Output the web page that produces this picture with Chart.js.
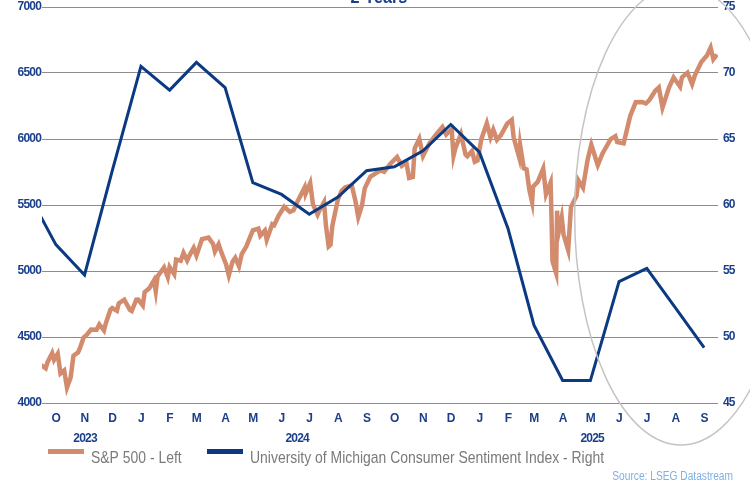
<!DOCTYPE html>
<html>
<head>
<meta charset="utf-8">
<script src="https://cdn.jsdelivr.net/npm/chart.js@4.4.1/dist/chart.umd.min.js"></script>
<style>
  html, body { margin: 0; padding: 0; background: #fff; }
  #wrap { width: 750px; height: 482px; position: relative; }
</style>
</head>
<body>
<div id="wrap"><canvas id="chart" width="750" height="482"></canvas></div>
<script>
// S&P 500 (left axis)
const spxDates = [
  '2023-09-29','2023-10-04','2023-10-06','2023-10-11','2023-10-13','2023-10-17','2023-10-20','2023-10-24','2023-10-27','2023-10-31',
  '2023-11-03','2023-11-08','2023-11-10','2023-11-14','2023-11-17','2023-11-22','2023-11-28','2023-12-01','2023-12-06','2023-12-08',
  '2023-12-13','2023-12-15','2023-12-20','2023-12-22','2023-12-28',
  '2024-01-03','2024-01-05','2024-01-10','2024-01-12','2024-01-17','2024-01-19','2024-01-24','2024-01-29','2024-01-31','2024-02-02',
  '2024-02-09','2024-02-13','2024-02-15','2024-02-20','2024-02-22','2024-02-27','2024-03-01','2024-03-05','2024-03-08','2024-03-12',
  '2024-03-15','2024-03-21','2024-03-28','2024-04-02','2024-04-04','2024-04-08','2024-04-10','2024-04-12','2024-04-16','2024-04-19',
  '2024-04-23','2024-04-26','2024-04-30','2024-05-03','2024-05-08','2024-05-10','2024-05-15','2024-05-21','2024-05-23','2024-05-28',
  '2024-05-30','2024-06-05','2024-06-07','2024-06-12','2024-06-18','2024-06-24','2024-06-28','2024-07-03','2024-07-10','2024-07-11',
  '2024-07-16','2024-07-19','2024-07-24','2024-07-26','2024-07-31','2024-08-02','2024-08-05','2024-08-07','2024-08-09','2024-08-15',
  '2024-08-19','2024-08-23','2024-08-30','2024-09-03','2024-09-06','2024-09-10','2024-09-13','2024-09-19','2024-09-26','2024-09-30',
  '2024-10-04','2024-10-11','2024-10-18','2024-10-23','2024-10-28','2024-10-31','2024-11-04','2024-11-06','2024-11-11','2024-11-15',
  '2024-11-22','2024-11-29','2024-12-06','2024-12-10','2024-12-16','2024-12-18','2024-12-20','2024-12-26','2024-12-31',
  '2025-01-02','2025-01-07','2025-01-10','2025-01-13','2025-01-17','2025-01-23','2025-01-27','2025-01-30','2025-02-03','2025-02-07',
  '2025-02-14','2025-02-19','2025-02-21','2025-02-27','2025-02-28','2025-03-04','2025-03-07','2025-03-10','2025-03-13','2025-03-14',
  '2025-03-19','2025-03-25','2025-03-28','2025-04-02','2025-04-03','2025-04-04','2025-04-08','2025-04-09','2025-04-10','2025-04-14',
  '2025-04-16','2025-04-21','2025-04-24','2025-04-30','2025-05-02','2025-05-07','2025-05-12','2025-05-16','2025-05-21','2025-05-23',
  '2025-05-28','2025-06-06','2025-06-11','2025-06-13','2025-06-20','2025-06-27','2025-07-03','2025-07-10','2025-07-14','2025-07-18',
  '2025-07-24','2025-07-28','2025-08-01','2025-08-08','2025-08-13','2025-08-20','2025-08-22','2025-08-28','2025-09-02','2025-09-05',
  '2025-09-12','2025-09-18','2025-09-22','2025-09-25','2025-09-29'
];
const spxValues = [
  4288,4263,4309,4377,4327,4373,4224,4247,4117,4194,
  4358,4383,4415,4496,4514,4556,4555,4595,4549,4604,
  4707,4719,4698,4755,4783,
  4705,4697,4783,4784,4739,4840,4869,4928,4846,4959,
  5027,4953,5030,4976,5087,5078,5137,5079,5124,5175,
  5117,5241,5254,5205,5147,5202,5161,5123,5051,4967,
  5070,5100,5036,5128,5187,5223,5308,5321,5268,5306,
  5236,5354,5347,5421,5487,5448,5460,5537,5633,5584,
  5667,5505,5427,5459,5522,5346,5186,5199,5344,5543,
  5608,5634,5648,5528,5408,5496,5626,5713,5745,5762,
  5751,5815,5864,5797,5823,5705,5712,5929,6001,5871,
  5969,6032,6090,6034,6074,5872,5930,6037,5882,
  5869,5909,5827,5837,5997,6119,6012,6071,5994,6026,
  6115,6144,6013,5861,5955,5778,5770,5615,5522,5639,
  5675,5777,5581,5671,5397,5074,4983,5457,5268,5406,
  5276,5158,5485,5569,5687,5631,5844,5958,5845,5802,
  5889,6000,6022,5977,5967,6173,6279,6280,6269,6297,
  6364,6390,6238,6389,6466,6396,6467,6502,6416,6482,
  6584,6632,6693,6604,6640
];

// University of Michigan Consumer Sentiment (right axis), monthly
const umichDates = [
  '2023-09-15','2023-10-15','2023-11-15','2023-12-15','2024-01-15','2024-02-15','2024-03-15','2024-04-15','2024-05-15',
  '2024-06-15','2024-07-15','2024-08-15','2024-09-15','2024-10-15','2024-11-15','2024-12-15','2025-01-15','2025-02-15',
  '2025-03-15','2025-04-15','2025-05-15','2025-06-15','2025-07-15','2025-08-15','2025-09-15'
];
const umichValues = [
  60.9,57.0,54.7,62.6,70.5,68.7,70.8,68.9,61.7,
  60.8,59.3,60.6,62.6,62.9,64.1,66.1,64.0,58.2,
  50.9,46.7,46.7,54.2,55.2,52.2,49.2
];

// axes
const monthTickDates = [
  '2023-10-15','2023-11-15','2023-12-15','2024-01-15','2024-02-15','2024-03-15','2024-04-15','2024-05-15',
  '2024-06-15','2024-07-15','2024-08-15','2024-09-15','2024-10-15','2024-11-15','2024-12-15','2025-01-15',
  '2025-02-15','2025-03-15','2025-04-15','2025-05-15','2025-06-15','2025-07-15','2025-08-15','2025-09-15'
];
const monthLabels = ['O','N','D','J','F','M','A','M','J','J','A','S','O','N','D','J','F','M','A','M','J','J','A','S'];
const yearLabels = ['2023','2024','2025'];
const rangeStart = '2023-09-30';
const rangeEnd = '2025-09-30';
const leftTicks = [4000, 4500, 5000, 5500, 6000, 6500, 7000];
const rightTicks = [45, 50, 55, 60, 65, 70, 75];

// highlight ellipse (in data units)
const ellipse = { center: '2025-08-21', value: 5424, halfDays: 115, halfValue: 1742 };

const day = s => Date.UTC(+s.slice(0, 4), +s.slice(5, 7) - 1, +s.slice(8, 10)) / 864e5;

const xMin = day(rangeStart), xMax = day(rangeEnd);
const yearTicks = yearLabels.map(y => {
  const a = Math.max(xMin, day(y + '-01-01'));
  const b = Math.min(xMax, day((+y + 1) + '-01-01'));
  return (a + b) / 2;
});

const FONT = "'Liberation Sans', Arial, sans-serif";
const tickFont = { family: FONT, size: 12, weight: 'bold' };
const tickColor = '#1b3f8b';

// squeeze letters a little so the axis text reads like the narrow face of the original
const narrowTicks = {
  id: 'narrowTicks',
  beforeDraw(chart) { chart.ctx.letterSpacing = '-0.8px'; },
  afterDraw(chart) { chart.ctx.letterSpacing = '0px'; }
};

const overlay = {
  id: 'overlay',
  afterDraw(chart) {
    const { ctx, scales } = chart;
    ctx.save();
    ctx.letterSpacing = '0px';
    // title, mostly cut off at the top
    ctx.fillStyle = '#1b3f8b';
    ctx.font = 'bold 18px ' + FONT;
    ctx.textAlign = 'center';
    ctx.textBaseline = 'alphabetic';
    ctx.save();
    ctx.translate(379, 3);
    ctx.scale(0.9, 1);
    ctx.fillText('2 Years', 0, 0);
    ctx.restore();

    // ellipse
    const cx = scales.x.getPixelForValue(day(ellipse.center));
    const cy = scales.y.getPixelForValue(ellipse.value);
    const rx = scales.x.getPixelForValue(day(ellipse.center) + ellipse.halfDays) - cx;
    const ry = scales.y.getPixelForValue(ellipse.value - ellipse.halfValue) - cy;
    ctx.strokeStyle = '#c4c4c4';
    ctx.lineWidth = 1.5;
    ctx.beginPath();
    ctx.ellipse(cx, cy, rx, ry, 0, 0, Math.PI * 2);
    ctx.stroke();

    // legend
    const items = [{ x: 48 }, { x: 207 }];
    ctx.font = '17px ' + FONT;
    ctx.textAlign = 'left';
    ctx.textBaseline = 'middle';
    chart.data.datasets.forEach((ds, i) => {
      const it = items[i];
      ctx.fillStyle = ds.borderColor;
      ctx.fillRect(it.x, 449, 36, 5);
      ctx.fillStyle = '#7a7a7a';
      ctx.save();
      ctx.translate(it.x + 43, 458);
      ctx.scale(0.82, 1);
      ctx.fillText(ds.label, 0, 0);
      ctx.restore();
    });

    // source
    ctx.font = '12px ' + FONT;
    ctx.fillStyle = '#7fb0e3';
    ctx.textAlign = 'right';
    ctx.save();
    ctx.translate(733, 477);
    ctx.scale(0.85, 1);
    ctx.fillText('Source: LSEG Datastream', 0, 0);
    ctx.restore();
    ctx.restore();
  }
};

new Chart(document.getElementById('chart'), {
  type: 'line',
  data: {
    datasets: [
      {
        label: 'S&P 500 - Left',
        data: spxDates.map((d, i) => ({ x: day(d), y: spxValues[i] })),
        borderColor: '#d38b6d',
        borderWidth: 4.5,
        pointRadius: 0,
        tension: 0,
        yAxisID: 'y',
        order: 2
      },
      {
        label: 'University of Michigan Consumer Sentiment Index - Right',
        data: umichDates.map((d, i) => ({ x: day(d), y: umichValues[i] })),
        borderColor: '#0c3a82',
        borderWidth: 3,
        pointRadius: 0,
        tension: 0,
        yAxisID: 'y2',
        order: 1
      }
    ]
  },
  options: {
    responsive: false,
    animation: false,
    layout: { padding: { top: 7, left: 0, right: 0, bottom: 37 } },
    plugins: { legend: { display: false }, tooltip: { enabled: false }, title: { display: false } },
    scales: {
      x: {
        type: 'linear', position: 'bottom', min: xMin, max: xMax, weight: 0,
        grid: { display: false, drawTicks: false }, border: { display: false },
        afterBuildTicks: axis => { axis.ticks = monthTickDates.map(d => ({ value: day(d) })); },
        afterFit: axis => { axis.height = 22; axis.paddingLeft = 0; axis.paddingRight = 0; },
        ticks: { autoSkip: false, maxRotation: 0, padding: 8, color: tickColor, font: tickFont,
          callback: (v, i) => monthLabels[i] }
      },
      x2: {
        type: 'linear', position: 'bottom', min: xMin, max: xMax, weight: 1,
        grid: { display: false, drawTicks: false }, border: { display: false },
        afterBuildTicks: axis => { axis.ticks = yearTicks.map(v => ({ value: v })); },
        afterFit: axis => { axis.height = 20; axis.paddingLeft = 0; axis.paddingRight = 0; },
        ticks: { autoSkip: false, maxRotation: 0, padding: 6, color: tickColor, font: tickFont,
          callback: (v, i) => yearLabels[i] }
      },
      y: {
        position: 'left', min: 4000, max: 7000,
        grid: { color: '#8c8c8c', lineWidth: 1, drawTicks: false }, border: { display: false },
        afterBuildTicks: axis => { axis.ticks = leftTicks.map(v => ({ value: v })); },
        afterFit: axis => { axis.width = 42; axis.paddingTop = 0; axis.paddingBottom = 0; },
        ticks: { padding: 1, color: tickColor, font: tickFont, callback: v => String(v) }
      },
      y2: {
        position: 'right', min: 45, max: 75,
        grid: { display: false, drawTicks: false }, border: { display: false },
        afterBuildTicks: axis => { axis.ticks = rightTicks.map(v => ({ value: v })); },
        afterFit: axis => { axis.width = 32; axis.paddingTop = 0; axis.paddingBottom = 0; },
        ticks: { padding: 5, color: tickColor, font: tickFont, callback: v => String(v) }
      }
    }
  },
  plugins: [narrowTicks, overlay]
});
</script>
</body>
</html>
